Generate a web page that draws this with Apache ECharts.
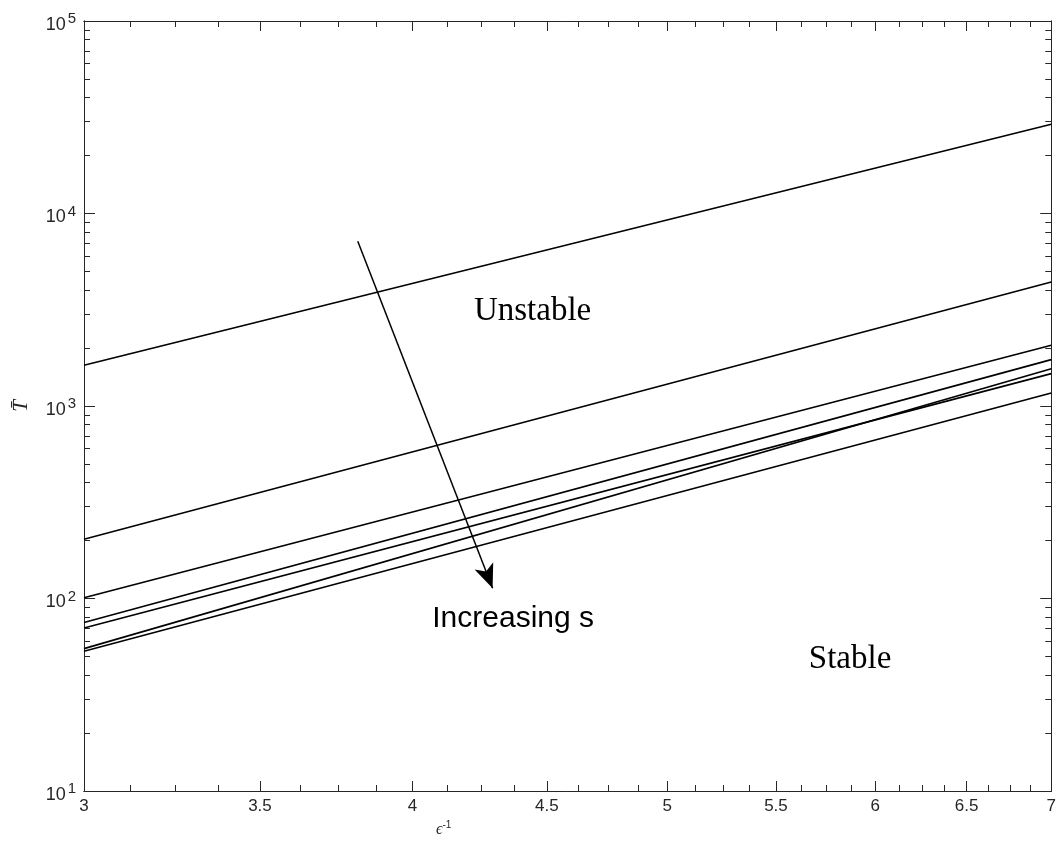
<!DOCTYPE html>
<html>
<head>
<meta charset="utf-8">
<script src="https://cdn.jsdelivr.net/npm/echarts@6/dist/echarts.min.js"></script>
<style>html,body{margin:0;padding:0;background:#fff;}#chart{width:1059px;height:843px;}</style>
</head>
<body>
<div id="chart"></div>
<script>
// x positions of the line endpoints (epsilon^-1)
const xEnds = [3, 7];
// T-bar values at x = 3 and x = 7 for each curve (top to bottom, increasing s)
const curve1 = [1627, 29050];
const curve2 = [203, 4406];
const curve3 = [101, 2066];
const curve4 = [75, 1741];
const curve5 = [70.3, 1473];
const curve6 = [54.9, 1563];
const curve7 = [53.2, 1168];
const curves = [curve1, curve2, curve3, curve4, curve5, curve6, curve7];

// tick labels
const xMajorTicks = [3, 3.5, 4, 4.5, 5, 5.5, 6, 6.5, 7];
const xMinorTicks = [3.125, 3.25, 3.375, 3.625, 3.75, 3.875, 4.125, 4.25, 4.375, 4.625, 4.75, 4.875,
  5.125, 5.25, 5.375, 5.625, 5.75, 5.875, 6.125, 6.25, 6.375, 6.625, 6.75, 6.875];
const yMajorTicks = [10, 100, 1000, 10000, 100000];
const yMinorTicks = [20, 30, 40, 50, 60, 70, 80, 90, 200, 300, 400, 500, 600, 700, 800, 900,
  2000, 3000, 4000, 5000, 6000, 7000, 8000, 9000, 20000, 30000, 40000, 50000, 60000, 70000, 80000, 90000];

// annotations (data coordinates)
const arrowStart = [3.813, 7170];
const arrowEnd = [4.291, 113];
const textUnstable = { text: 'Unstable', coord: [4.444, 3105] };
const textStable = { text: 'Stable', coord: [5.869, 48.3] };
const textIncreasing = { text: 'Increasing s', coord: [4.369, 78.3] };

const AX = '#262626';
const sans = 'Liberation Sans, Arial, Helvetica, sans-serif';
const serif = 'Liberation Serif, Times New Roman, serif';

function xAxisDef(pos, major, show) {
  return {
    type: 'log', logBase: 10, min: 3, max: 7, position: pos,
    axisLine: { show: true, lineStyle: { color: AX, width: 1 } },
    axisTick: { show: true, inside: true, length: major ? 10 : 6,
      customValues: major ? xMajorTicks : xMinorTicks, lineStyle: { color: AX, width: 1 } },
    axisLabel: show ? { show: true, customValues: xMajorTicks, color: AX, fontFamily: sans, fontSize: 17, margin: 7,
      formatter: v => String(+v.toFixed(3)) } : { show: false },
    splitLine: { show: false }, minorTick: { show: false }, minorSplitLine: { show: false }
  };
}
function yAxisDef(pos, major, show) {
  return {
    type: 'log', logBase: 10, min: 10, max: 100000, position: pos,
    axisLine: { show: true, lineStyle: { color: AX, width: 1 } },
    axisTick: { show: true, inside: true, length: major ? 11 : 6,
      customValues: major ? yMajorTicks : yMinorTicks, lineStyle: { color: AX, width: 1 } },
    axisLabel: show ? { show: true, customValues: yMajorTicks, color: AX, margin: 8,
      formatter: v => '{b|10}{s|' + Math.round(Math.log10(v)) + '}',
      rich: {
        b: { fontFamily: sans, fontSize: 18, color: AX, padding: [8, 0, 0, 0] },
        s: { fontFamily: sans, fontSize: 15, color: AX, padding: [0, 0, 4, 2] }
      } } : { show: false },
    splitLine: { show: false }, minorTick: { show: false }, minorSplitLine: { show: false }
  };
}

const xAxes = [xAxisDef('bottom', true, true), xAxisDef('bottom', false, false),
               xAxisDef('top', true, false), xAxisDef('top', false, false)];
xAxes[0].name = '{e|ϵ}{s|-1}';
xAxes[0].nameLocation = 'middle';
xAxes[0].nameGap = 27;
xAxes[0].nameTextStyle = { padding: [0, 248, 0, 0], rich: {
  e: { fontFamily: serif, fontStyle: 'italic', fontSize: 16, color: AX },
  s: { fontFamily: sans, fontSize: 10, color: AX, padding: [0, 0, 10, 0] } } };

const yAxes = [yAxisDef('left', true, true), yAxisDef('left', false, false),
               yAxisDef('right', true, false), yAxisDef('right', false, false)];
yAxes[0].name = 'T\u0304';
yAxes[0].nameLocation = 'middle';
yAxes[0].nameRotate = 90;
yAxes[0].nameGap = 52;
yAxes[0].nameTextStyle = { fontFamily: serif, fontStyle: 'italic', fontSize: 21, color: AX };

const series = curves.map((c, i) => ({
  type: 'line', name: 'c' + (i + 1), xAxisIndex: 0, yAxisIndex: 0,
  data: xEnds.map((x, j) => [x, c[j]]), showSymbol: false, symbol: 'none',
  lineStyle: { color: '#000', width: 1.6 }, silent: true
}));

function textPoint(t, font, size) {
  return { coord: t.coord, symbol: 'circle', symbolSize: 0,
    label: { show: true, position: 'inside', formatter: t.text, fontFamily: font, fontSize: size, color: '#000' } };
}

series.push({
  type: 'line', xAxisIndex: 0, yAxisIndex: 0, data: [], silent: true,
  markLine: {
    silent: true, animation: false, symbol: ['none', 'arrow'],
    label: { show: false },
    lineStyle: { color: '#000', width: 1.5, type: 'solid' },
    data: [[{ coord: arrowStart, symbol: 'none' }, { coord: arrowEnd, symbol: 'arrow', symbolSize: [15, 24] }]]
  },
  markPoint: {
    silent: true, animation: false,
    data: [textPoint(textUnstable, serif, 33), textPoint(textStable, serif, 33), textPoint(textIncreasing, sans, 30)]
  }
});

const chart = echarts.init(document.getElementById('chart'), null, { renderer: 'canvas' });
chart.setOption({
  animation: false,
  backgroundColor: '#fff',
  grid: { left: 84, right: 6, top: 21, bottom: 52 },
  xAxis: xAxes,
  yAxis: yAxes,
  series: series
});
</script>
</body>
</html>
